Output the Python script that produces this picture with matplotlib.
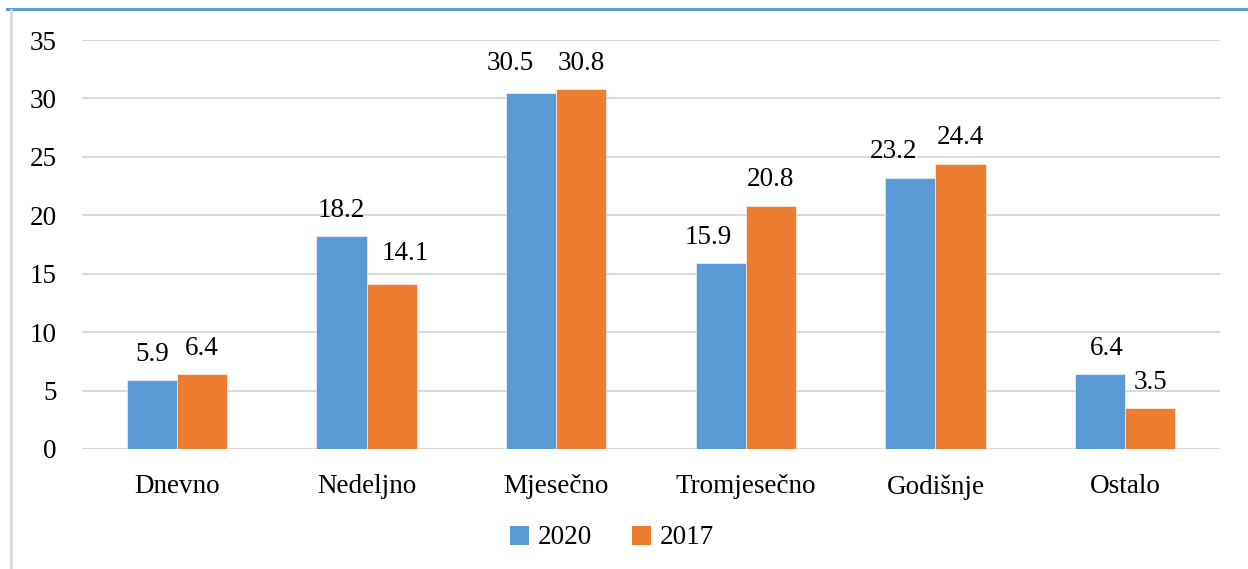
import matplotlib
matplotlib.use("Agg")
import matplotlib.pyplot as plt
from matplotlib.lines import Line2D
from matplotlib.patches import Patch
import numpy as np

categories = ["Dnevno", "Nedeljno", "Mjesečno", "Tromjesečno", "Godišnje", "Ostalo"]
series_names = ["2020", "2017"]
values_2020 = [5.9, 18.2, 30.5, 15.9, 23.2, 6.4]
values_2017 = [6.4, 14.1, 30.8, 20.8, 24.4, 3.5]
y_ticks = [0, 5, 10, 15, 20, 25, 30, 35]

# label nudges (pixels) to mimic the manual placement in the original
nudge_2020 = [(0, 0), (0, 0), (-21, 3), (-13, 0), (-17, 0), (7, 0)]
nudge_2017 = [(0, 0), (14, 5), (0, 0), (0, 0), (0, 0), (0, 0)]

BLUE = "#5B9BD5"
ORANGE = "#ED7D31"
GRID = "#D9D9D9"
FONT = "Liberation Serif"
FS = 19.5

W, H = 1248, 569
fig = plt.figure(figsize=(W / 100, H / 100), dpi=100)
ax = fig.add_axes([82 / W, 1 - 449 / H, (1220 - 82) / W, (449 - 40) / H])

x = np.arange(len(categories))
bw = 0.264
b1 = ax.bar(x - bw / 2, values_2020, bw, color=BLUE, edgecolor="white", linewidth=0.4, zorder=3)
b2 = ax.bar(x + bw / 2, values_2017, bw, color=ORANGE, edgecolor="white", linewidth=0.4, zorder=3)

ax.set_xlim(-0.5, len(categories) - 0.5)
ax.set_ylim(0, 35)
ax.set_yticks(y_ticks)
ax.set_yticklabels([str(t) for t in y_ticks], fontfamily=FONT, fontsize=FS)
ax.set_xticks(x)
ax.set_xticklabels(categories, fontfamily=FONT, fontsize=FS)
ax.tick_params(axis="both", length=0)
ax.tick_params(axis="y", pad=18)
ax.tick_params(axis="x", pad=18)
for s in ax.spines.values():
    s.set_visible(False)
ax.yaxis.grid(True, color=GRID, linewidth=1.4, zorder=0)
ax.set_axisbelow(True)

px2pt = 72 / 100
for bars, vals, nudges in ((b1, values_2020, nudge_2020), (b2, values_2017, nudge_2017)):
    for rect, v, (dx, dy) in zip(bars, vals, nudges):
        ax.annotate(f"{v:.1f}", (rect.get_x() + rect.get_width() / 2, v),
                    xytext=(dx * px2pt, (26 + dy) * px2pt), textcoords="offset points",
                    ha="center", va="center", fontfamily=FONT, fontsize=FS, zorder=4)

handles = [Patch(facecolor=BLUE), Patch(facecolor=ORANGE)]
fig.legend(handles, series_names, loc="center", bbox_to_anchor=(612 / W, 1 - 538 / H),
           ncol=2, frameon=False, prop={"family": FONT, "size": FS},
           handlelength=0.7, handleheight=0.7, handletextpad=0.3, columnspacing=1.5)

# frame fragments like the original
fig.add_artist(Line2D([7 / W, 1], [1 - 9 / H, 1 - 9 / H], color=BLUE, linewidth=2.2))
fig.add_artist(Line2D([10.5 / W, 10.5 / W], [0, 1 - 10 / H], color=GRID, linewidth=1.8))

fig.savefig("out.png", dpi=100)
